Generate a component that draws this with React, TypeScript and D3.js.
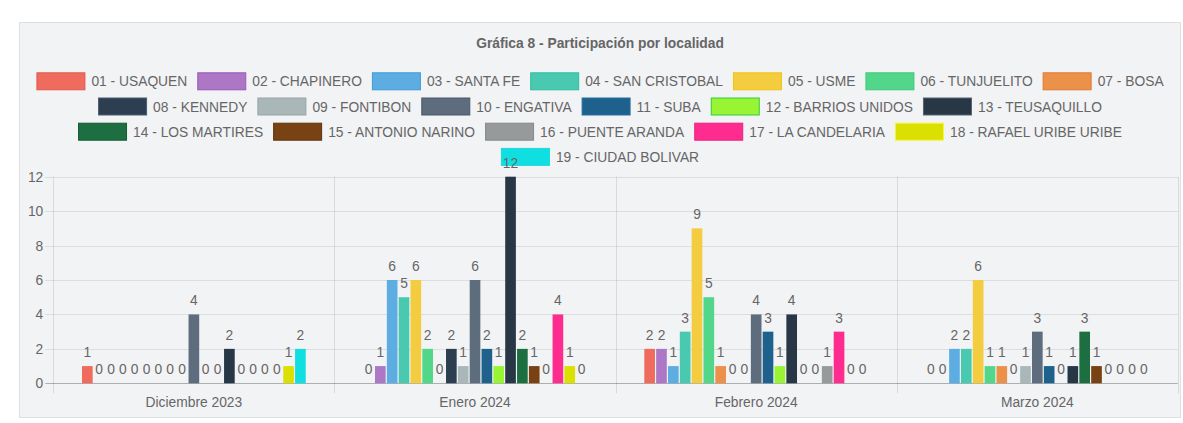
import React, { useRef, useEffect } from 'react'
import * as d3 from 'd3'

const titulo = 'Gráfica 8 - Participación por localidad'

const meses = ['Diciembre 2023', 'Enero 2024', 'Febrero 2024', 'Marzo 2024']

const localidades = [
    '01 - USAQUEN',
    '02 - CHAPINERO',
    '03 - SANTA FE',
    '04 - SAN CRISTOBAL',
    '05 - USME',
    '06 - TUNJUELITO',
    '07 - BOSA',
    '08 - KENNEDY',
    '09 - FONTIBON',
    '10 - ENGATIVA',
    '11 - SUBA',
    '12 - BARRIOS UNIDOS',
    '13 - TEUSAQUILLO',
    '14 - LOS MARTIRES',
    '15 - ANTONIO NARINO',
    '16 - PUENTE ARANDA',
    '17 - LA CANDELARIA',
    '18 - RAFAEL URIBE URIBE',
    '19 - CIUDAD BOLIVAR',
]

// valores por mes, en el orden de localidades
const diciembre = [1, 0, 0, 0, 0, 0, 0, 0, 0, 4, 0, 0, 2, 0, 0, 0, 0, 1, 2]
const enero = [0, 1, 6, 5, 6, 2, 0, 2, 1, 6, 2, 1, 12, 2, 1, 0, 4, 1, 0]
const febrero = [2, 2, 1, 3, 9, 5, 1, 0, 0, 4, 3, 1, 4, 0, 0, 1, 3, 0, 0]
const marzo = [0, 0, 2, 2, 6, 1, 1, 0, 1, 3, 1, 0, 1, 3, 1, 0, 0, 0, 0]

const colores = [
    '#ee6b5e', '#ad77c6', '#5dade2', '#48c9b0', '#f4cc3f', '#52d68a', '#eb914a',
    '#2c3e50', '#aab7b8', '#5d6d7e', '#1f618d', '#99f533', '#273746', '#1d6f42',
    '#784212', '#979a9a', '#fe2c8e', '#dce000', '#0fdfe0',
]
const bordes = [
    '#e05a4d', '#9b59b6', '#3f9bd8', '#2ebd9f', '#f1c40f', '#3fc878', '#e07a30',
    '#4a5d70', '#95a5a6', '#4a5a6b', '#2471a3', '#2ecc40', '#566573', '#145a32',
    '#5d320d', '#858888', '#f0207f', '#f5f540', '#1ed8e0',
]

const yMax = 12
const FONT = '"Liberation Sans", Arial, Helvetica, sans-serif'

export default function App() {
    const svgRef = useRef<SVGSVGElement>(null)

    useEffect(() => {
        if (!svgRef.current) return
        const W = 1183
        const H = 423
        const svg = d3.select(svgRef.current).attr('width', W).attr('height', H)
        svg.selectAll('*').remove()

        const valores = [diciembre, enero, febrero, marzo]

        // fondo de la tarjeta
        svg.append('rect')
            .attr('x', 19.5)
            .attr('y', 22.5)
            .attr('width', 1161)
            .attr('height', 395)
            .attr('fill', '#f2f3f5')
            .attr('stroke', '#dedfe1')

        svg.append('text')
            .attr('x', 600)
            .attr('y', 47.5)
            .attr('text-anchor', 'middle')
            .style('font', `bold 13.8px ${FONT}`)
            .attr('fill', '#666')
            .text(titulo)

        // leyenda
        const boxW = 49
        const boxH = 17
        const gap = 6
        const itemPad = 10
        const maxW = 1150
        const legend = svg.append('g')
        const items = localidades.map((name, i) => {
            const g = legend.append('g')
            g.append('rect')
                .attr('x', 0.5)
                .attr('y', -boxH / 2)
                .attr('width', boxW - 1)
                .attr('height', boxH)
                .attr('fill', colores[i])
                .attr('stroke', bordes[i])
            const t = g
                .append('text')
                .attr('x', boxW + gap)
                .attr('y', 5)
                .style('font', `13.8px ${FONT}`)
                .attr('fill', '#666')
                .text(name)
            const tw = (t.node() as SVGTextElement).getComputedTextLength()
            return { g, w: boxW + gap + tw }
        })
        const rows: { g: any; w: number }[][] = [[]]
        let rowW = 0
        items.forEach((it) => {
            const add = rowW === 0 ? it.w : rowW + itemPad + it.w
            if (add > maxW && rowW > 0) {
                rows.push([it])
                rowW = it.w
            } else {
                rows[rows.length - 1].push(it)
                rowW = add
            }
        })
        rows.forEach((row, r) => {
            const total = d3.sum(row, (d) => d.w) + itemPad * (row.length - 1)
            let x = 600 - total / 2
            const y = 81.3 + r * 25.2
            row.forEach((it) => {
                it.g.attr('transform', `translate(${x},${y})`)
                x += it.w + itemPad
            })
        })

        // area del grafico
        const left = 53.3
        const right = 1177.9
        const top = 176.7
        const bottom = 383.3

        const x0 = d3.scaleBand<string>().domain(meses).range([left, right])
        const cw = x0.bandwidth()
        const x1 = d3
            .scaleBand<string>()
            .domain(localidades)
            .range([cw * 0.1, cw * 0.9])
            .paddingInner(0.1)
            .paddingOuter(0.05)
        const y = d3.scaleLinear().domain([0, yMax]).range([bottom, top])

        const grid = svg.append('g')
        y.ticks(6).forEach((t) => {
            grid.append('line')
                .attr('x1', left - 8)
                .attr('x2', right)
                .attr('y1', Math.round(y(t)) + 0.5)
                .attr('y2', Math.round(y(t)) + 0.5)
                .attr('stroke', t === 0 ? 'rgba(0,0,0,0.28)' : 'rgba(0,0,0,0.09)')
            grid.append('text')
                .attr('x', left - 10)
                .attr('y', y(t) + 5)
                .attr('text-anchor', 'end')
                .style('font', `13.8px ${FONT}`)
                .attr('fill', '#666')
                .text(t)
        })
        const bounds = meses.map((m) => x0(m)!).concat([right])
        bounds.forEach((bx) => {
            grid.append('line')
                .attr('x1', Math.round(bx) + 0.5)
                .attr('x2', Math.round(bx) + 0.5)
                .attr('y1', top)
                .attr('y2', bottom + 10)
                .attr('stroke', 'rgba(0,0,0,0.1)')
        })
        meses.forEach((m) => {
            grid.append('text')
                .attr('x', x0(m)! + cw / 2)
                .attr('y', 407)
                .attr('text-anchor', 'middle')
                .style('font', `13.8px ${FONT}`)
                .attr('fill', '#666')
                .text(m)
        })

        // barras
        const bars = svg.append('g')
        const labels = svg.append('g')
        meses.forEach((m, mi) => {
            localidades.forEach((loc, li) => {
                const v = valores[mi][li]
                const bx = x0(m)! + x1(loc)!
                if (v > 0) {
                    bars.append('rect')
                        .attr('x', bx)
                        .attr('y', y(v))
                        .attr('width', x1.bandwidth())
                        .attr('height', y(0) - y(v))
                        .attr('fill', colores[li])
                }
                labels
                    .append('text')
                    .attr('x', bx + x1.bandwidth() / 2)
                    .attr('y', y(v) - 9)
                    .attr('text-anchor', 'middle')
                    .style('font', `13.8px ${FONT}`)
                    .attr('fill', '#666')
                    .text(v)
            })
        })
    }, [])

    return (
        <div style={{ position: 'absolute', left: 0, top: 0, background: '#fff' }}>
            <svg ref={svgRef} style={{ display: 'block' }} />
        </div>
    )
}
